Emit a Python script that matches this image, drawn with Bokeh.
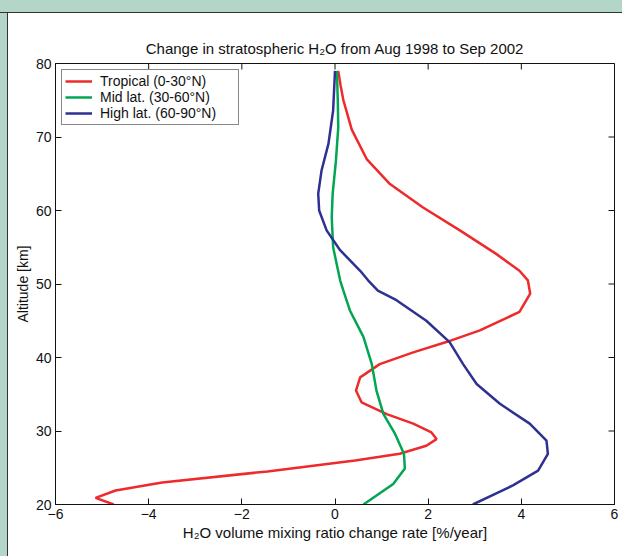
from bokeh.plotting import figure
from bokeh.models import FixedTicker, Range1d, Legend, LegendItem, Title
from bokeh.embed import file_html
from bokeh.resources import INLINE

# ---- data ----
trop_alt = [79, 77, 75, 71, 67, 63.6, 60.4, 57.3, 54.1, 51.8, 50.5, 48.7, 46.2, 43.7, 42.1, 40.7,
            39.1, 37.3, 35.5, 33.9, 32.3, 31.0, 29.8, 28.9, 28.0, 26.9, 26.0, 24.5, 23.0, 21.9, 20.9, 20.0]
trop_val = [0.07, 0.12, 0.18, 0.36, 0.68, 1.18, 1.89, 2.68, 3.46, 3.96, 4.14, 4.19, 3.96, 3.11, 2.39, 1.68,
            0.96, 0.54, 0.45, 0.57, 1.11, 1.68, 2.07, 2.18, 1.96, 1.39, 0.43, -1.45, -3.71, -4.71, -5.14, -4.75]

mid_alt = [79, 75, 71.3, 66.8, 62.3, 59.1, 55.0, 50.5, 49.1, 46.4, 42.8, 39.1, 35.5, 32.3, 29.6, 26.9, 24.9, 22.8, 20.0]
mid_val = [0.04, 0.06, 0.07, 0.02, -0.05, -0.07, -0.04, 0.11, 0.18, 0.32, 0.61, 0.79, 0.89, 1.04, 1.29, 1.48, 1.5, 1.25, 0.61]

high_alt = [79, 73.6, 69.1, 65.4, 62.3, 60.0, 57.3, 54.6, 51.8, 50.5, 49.1, 47.8, 45.0, 42.1, 39.1, 36.4,
            33.7, 31.0, 28.7, 26.9, 24.6, 22.6, 20.0]
high_val = [0.0, -0.04, -0.14, -0.29, -0.36, -0.34, -0.18, 0.11, 0.54, 0.71, 0.92, 1.32, 1.96, 2.46, 2.75, 3.04,
            3.54, 4.18, 4.54, 4.57, 4.36, 3.82, 2.96]

series_names = ["Tropical (0-30°N)", "Mid lat. (30-60°N)", "High lat. (60-90°N)"]
series_colors = ["#ee2a2a", "#00a651", "#2e3192"]

x_ticks = [-6, -4, -2, 0, 2, 4, 6]
y_ticks = [20, 30, 40, 50, 60, 70, 80]

title_text = "Change in stratospheric H\u2082O from Aug 1998 to Sep 2002"
xlabel_text = "H\u2082O volume mixing ratio change rate [%/year]"
ylabel_text = "Altitude [km]"

FONT = "Liberation Sans"
INK = "#111111"
PAGE_BG = "#b3d6c8"

p = figure(width=614, height=543, output_backend="svg", toolbar_location=None,
           x_range=Range1d(-6, 6), y_range=Range1d(20, 80),
           min_border_left=47, min_border_right=8, min_border_top=50, min_border_bottom=52,
           background_fill_color="white", border_fill_color="white")

p.title.text = title_text
p.title.align = "center"
p.title.text_font = FONT
p.title.text_font_size = "15px"
p.title.text_font_style = "normal"
p.title.text_color = INK
p.title.standoff = 14

p.xgrid.visible = False
p.ygrid.visible = False
p.outline_line_color = INK
p.outline_line_width = 1

for ax in (p.xaxis[0], p.yaxis[0]):
    ax.major_tick_in = 6
    ax.major_tick_out = 0
    ax.minor_tick_in = 0
    ax.minor_tick_out = 0
    ax.axis_line_color = INK
    ax.major_tick_line_color = INK
    ax.major_label_text_font = FONT
    ax.major_label_text_color = INK
    ax.major_label_text_font_size = "14px"

p.xaxis.ticker = FixedTicker(ticks=x_ticks)
p.yaxis.ticker = FixedTicker(ticks=y_ticks)
p.xaxis.major_label_standoff = 4
p.yaxis.major_label_standoff = 4

# axis titles
p.add_layout(Title(text=xlabel_text, align="center", standoff=0,
                   text_font=FONT, text_font_size="15px", text_font_style="normal",
                   text_color=INK), "below")
p.add_layout(Title(text=ylabel_text, align="center", standoff=4,
                   text_font=FONT, text_font_size="14px", text_font_style="normal",
                   text_color=INK), "left")

# inward ticks on the top and right edges of the box (Matlab style)
p.ray(x=x_ticks, y=[80] * len(x_ticks), length=6, length_units="screen",
      angle=-90, angle_units="deg", line_color=INK, line_width=1)
p.ray(x=[6] * len(y_ticks), y=y_ticks, length=6, length_units="screen",
      angle=180, angle_units="deg", line_color=INK, line_width=1)

r1 = p.line(trop_val, trop_alt, line_color=series_colors[0], line_width=2.5)
r2 = p.line(mid_val, mid_alt, line_color=series_colors[1], line_width=2.5)
r3 = p.line(high_val, high_alt, line_color=series_colors[2], line_width=2.5)

legend = Legend(items=[LegendItem(label=series_names[0], renderers=[r1]),
                       LegendItem(label=series_names[1], renderers=[r2]),
                       LegendItem(label=series_names[2], renderers=[r3])],
                location="top_left")
legend.margin = 6
legend.padding = 3
legend.spacing = 0
legend.glyph_width = 27
legend.glyph_height = 16
legend.label_height = 16
legend.label_width = 135
legend.label_standoff = 8
legend.label_text_font = FONT
legend.label_text_font_size = "14px"
legend.label_text_color = INK
legend.border_line_color = INK
legend.border_line_width = 1
legend.background_fill_alpha = 1
p.add_layout(legend)

html = file_html(p, INLINE)
css = (
    "<style>\n"
    "html { background:"
    " linear-gradient(to bottom, %(g)s 0px, %(g)s 12px, #333333 12px, #333333 13px, rgba(0,0,0,0) 13px),"
    " linear-gradient(to right, %(g)s 0px, %(g)s 7px, #333333 7px, #333333 8px, #ffffff 8px) !important;"
    " overflow: hidden !important; }\n"
    "body { background: transparent !important; padding: 13px 0 0 8px !important;"
    " box-sizing: border-box !important; overflow: hidden !important; }\n"
    "</style>\n</head>"
) % {"g": PAGE_BG}
html = html.replace("</head>", css, 1)
open("out.html", "w").write(html)
